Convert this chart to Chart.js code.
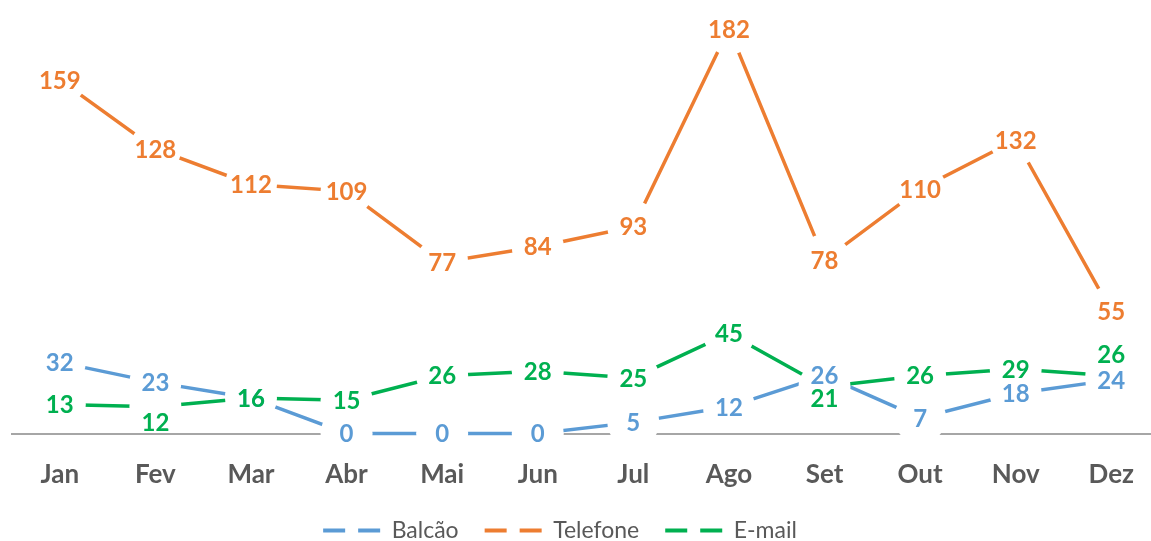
<!DOCTYPE html>
<html>
<head>
<meta charset="utf-8">
<script src="https://cdn.jsdelivr.net/npm/chart.js@4.4.0/dist/chart.umd.min.js"></script>
<style>
  html, body { margin: 0; padding: 0; background: #fff; overflow: hidden; }
  /* plot runs a little past the right edge, like the original */
  #wrap { width: 1160px; height: 541px; position: relative; }
</style>
</head>
<body>
<div id="wrap"><canvas id="chart"></canvas></div>
<script>
// ---- data ----
const months   = ["Jan", "Fev", "Mar", "Abr", "Mai", "Jun", "Jul", "Ago", "Set", "Out", "Nov", "Dez"];
const balcao   = [32, 23, 16, 0, 0, 0, 5, 12, 26, 7, 18, 24];
const telefone = [159, 128, 112, 109, 77, 84, 93, 182, 78, 110, 132, 55];
const email    = [13, 12, 16, 15, 26, 28, 25, 45, 21, 26, 29, 26];

const seriesNames  = ["Balcão", "Telefone", "E-mail"];
const seriesColors = ["#5B9BD5", "#ED7D31", "#00B050"];

// a few labels were moved off their point in the original (px, + = down)
const labelNudge = { 2: { 1: 15, 8: 11, 11: -21 } };

const LABEL_FONT = "bold 24px Lato";

/* value labels centred on the (white) markers */
const valueLabels = {
  id: "valueLabels",
  afterDatasetsDraw(chart) {
    const ctx = chart.ctx;
    ctx.save();
    ctx.font = LABEL_FONT;
    ctx.textAlign = "center";
    ctx.textBaseline = "middle";
    chart.data.datasets.forEach((ds, di) => {
      ctx.fillStyle = ds.borderColor;
      chart.getDatasetMeta(di).data.forEach((pt, i) => {
        const nudge = (labelNudge[di] || {})[i] || 0;
        ctx.fillText(String(ds.data[i]), pt.x, pt.y + nudge + 1);
      });
    });
    ctx.restore();
  }
};

// legend sits a bit left of centre in the original
const legendShift = {
  id: "legendShift",
  afterLayout(chart) {
    chart.legend.left -= 26;
    chart.legend.right -= 26;
  }
};

const seriesData = [balcao, telefone, email];

new Chart(document.getElementById("chart"), {
  type: "line",
  data: {
    labels: months,
    datasets: seriesData.map((d, i) => ({
      label: seriesNames[i],
      data: d,
      order: seriesData.length - i,   // later series painted on top
      borderColor: seriesColors[i],
      backgroundColor: seriesColors[i],
      borderWidth: 3.5,
      borderCapStyle: "butt",
      pointStyle: "circle",
      pointRadius: 26,
      pointHoverRadius: 26,
      pointBorderWidth: 0,
      pointBackgroundColor: "#fff",
      tension: 0,
      fill: false,
      clip: false
    }))
  },
  options: {
    responsive: true,
    maintainAspectRatio: false,
    animation: false,
    events: [],
    layout: { autoPadding: false, padding: { top: 11, left: 12, right: 0, bottom: 0 } },
    plugins: {
      tooltip: { enabled: false },
      legend: {
        position: "bottom",
        maxHeight: 48,
        labels: {
          usePointStyle: true,
          pointStyleWidth: 57,
          padding: 26,
          color: "#595959",
          font: { family: "Lato", size: 23 },
          sort: (a, b) => a.datasetIndex - b.datasetIndex,
          generateLabels(chart) {
            const items = Chart.defaults.plugins.legend.labels.generateLabels(chart);
            items.forEach(it => {
              it.pointStyle = "line";
              it.lineDash = [22, 13];
              it.lineWidth = 4;
              it.strokeStyle = seriesColors[it.datasetIndex];
            });
            return items;
          }
        }
      }
    },
    scales: {
      x: {
        offset: true,
        grid: { display: false, drawTicks: false },
        border: { display: true, color: "#A6A6A6", width: 2 },
        ticks: {
          padding: 26,
          color: "#595959",
          font: { family: "Lato", size: 26, weight: "bold" }
        },
        afterFit(scale) { scale.height = 59.5; }
      },
      y: {
        display: false,
        min: 0,
        max: 190
      }
    }
  },
  plugins: [valueLabels, legendShift]
});
</script>
</body>
</html>
